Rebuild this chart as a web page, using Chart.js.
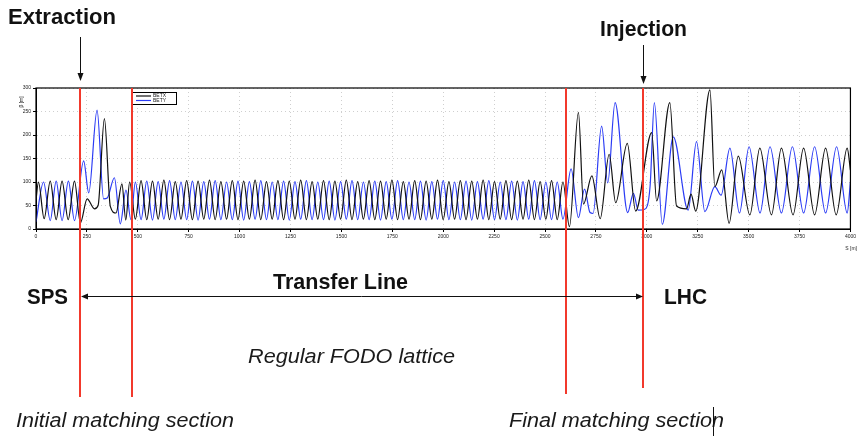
<!DOCTYPE html>
<html>
<head>
<meta charset="utf-8">
<title>SPS to LHC transfer line optics</title>
<script src="https://cdn.jsdelivr.net/npm/chart.js@4.4.1/dist/chart.umd.min.js"></script>
<style>
  html, body { margin: 0; padding: 0; background: #fff; }
  #wrap { width: 858px; height: 436px; }
</style>
</head>
<body>
<div id="wrap"><canvas id="optics" width="858" height="436"></canvas></div>
<script>
// Beta functions along the line, [s (m), beta (m)]
const betx = [
  [0, 62], [12, 100], [40, 22], [70, 102], [99, 20], [128, 102], [158, 20], [189, 102],
  [218, 13], [251, 64], [287, 43], [305, 50], [336, 235], [365, 48], [393, 34], [422, 96], [441, 19],
  // regular FODO
  [460, 100], [488, 21], [516, 103], [544, 20], [572, 102], [600, 21], [628, 104], [656, 20],
  [684, 101], [712, 21], [740, 103], [768, 20], [796, 102], [824, 21], [852, 104], [880, 20],
  [908, 101], [936, 21], [964, 103], [992, 20], [1020, 102], [1048, 21], [1076, 104], [1104, 20],
  [1132, 101], [1160, 21], [1188, 103], [1216, 20], [1244, 102], [1272, 21], [1300, 104], [1328, 20],
  [1356, 101], [1384, 21], [1412, 103], [1440, 20], [1468, 102], [1496, 21], [1524, 104], [1552, 20],
  [1580, 101], [1608, 21], [1636, 103], [1664, 20], [1692, 102], [1720, 21], [1748, 104], [1776, 20],
  [1804, 101], [1832, 21], [1860, 103], [1888, 20], [1916, 102], [1944, 21], [1972, 104], [2000, 20],
  [2028, 101], [2056, 21], [2084, 103], [2112, 20], [2140, 102], [2168, 21], [2196, 104], [2224, 20],
  [2252, 101], [2280, 21], [2308, 103], [2336, 20], [2364, 102], [2392, 21], [2420, 104], [2448, 20],
  [2476, 101], [2504, 21], [2532, 103], [2560, 20], [2588, 100],
  // final matching section and LHC
  [2620, 5], [2664, 248], [2689, 53], [2730, 113], [2771, 22], [2815, 159], [2847, 56], [2904, 182],
  [2945, 38], [3024, 205], [3048, 60], [3113, 269], [3146, 49], [3195, 43], [3217, 74], [3240, 38],
  [3310, 296], [3334, 90], [3368, 126], [3404, 12], [3449, 155], [3506, 30], [3555, 172], [3612, 30],
  [3661, 172], [3718, 30], [3770, 172], [3824, 30], [3878, 172], [3930, 30], [3984, 172], [4000, 125]
];

const bety = [
  [0, 15], [37, 100], [70, 18], [99, 102], [128, 18], [159, 102], [189, 18],
  [234, 145], [259, 77], [300, 253], [332, 64], [350, 66], [385, 109], [414, 11], [442, 83], [466, 20],
  // regular FODO
  [488, 100], [516, 20], [544, 102], [572, 19], [600, 101], [628, 21], [656, 103], [684, 20],
  [712, 100], [740, 20], [768, 102], [796, 19], [824, 101], [852, 21], [880, 103], [908, 20],
  [936, 100], [964, 20], [992, 102], [1020, 19], [1048, 101], [1076, 21], [1104, 103], [1132, 20],
  [1160, 100], [1188, 20], [1216, 102], [1244, 19], [1272, 101], [1300, 21], [1328, 103], [1356, 20],
  [1384, 100], [1412, 20], [1440, 102], [1468, 19], [1496, 101], [1524, 21], [1552, 103], [1580, 20],
  [1608, 100], [1636, 20], [1664, 102], [1692, 19], [1720, 101], [1748, 21], [1776, 103], [1804, 20],
  [1832, 100], [1860, 20], [1888, 102], [1916, 19], [1944, 101], [1972, 21], [2000, 103], [2028, 20],
  [2056, 100], [2084, 20], [2112, 102], [2140, 19], [2168, 101], [2196, 21], [2224, 103], [2252, 20],
  [2280, 100], [2308, 20], [2336, 102], [2364, 19], [2392, 101], [2420, 21], [2448, 103], [2476, 20],
  [2504, 100], [2532, 20], [2560, 100], [2588, 21],
  // final matching section and LHC
  [2628, 128], [2664, 24], [2694, 85], [2721, 35], [2736, 33], [2778, 219], [2808, 98], [2844, 269],
  [2906, 35], [2934, 76], [2958, 40], [2990, 42], [3016, 91], [3037, 269], [3076, 10], [3130, 196],
  [3203, 40], [3244, 186], [3285, 37], [3334, 90], [3365, 72], [3408, 172], [3455, 34], [3502, 175],
  [3556, 34], [3605, 175], [3661, 34], [3715, 175], [3770, 34], [3824, 175], [3878, 34], [3932, 175],
  [3984, 34], [4000, 100]
];

// Section boundaries (s in m): extraction, end of initial matching, start of final matching, injection
const sectionS = [218, 473, 2605, 2983];

const xTicks = [0, 250, 500, 750, 1000, 1250, 1500, 1750, 2000, 2250, 2500, 2750, 3000, 3250, 3500, 3750, 4000];
const yTicks = [0, 50, 100, 150, 200, 250, 300];

// draw text squeezed/stretched to a given width
function fitText(ctx, txt, x, y, w, font) {
  ctx.font = font;
  const m = ctx.measureText(txt).width;
  ctx.save();
  ctx.translate(x, y);
  ctx.scale(w / m, 1);
  ctx.fillText(txt, 0, 0);
  ctx.restore();
}

function arrowHead(ctx, x, y, dir) {
  // dir: 'down', 'left', 'right'
  ctx.beginPath();
  if (dir === 'down') { ctx.moveTo(x, y); ctx.lineTo(x - 3, y - 8); ctx.lineTo(x + 3, y - 8); }
  if (dir === 'left') { ctx.moveTo(x, y); ctx.lineTo(x + 7, y - 3); ctx.lineTo(x + 7, y + 3); }
  if (dir === 'right') { ctx.moveTo(x, y); ctx.lineTo(x - 7, y - 3); ctx.lineTo(x - 7, y + 3); }
  ctx.closePath();
  ctx.fill();
}

const annotations = {
  id: 'annotations',
  afterDatasetsDraw(chart) {
    const { ctx, chartArea: a, scales: { x } } = chart;
    ctx.save();

    // frame
    ctx.strokeStyle = '#000';
    ctx.lineWidth = 1.2;
    ctx.strokeRect(a.left, a.top, a.right - a.left, a.bottom - a.top);

    // axis titles
    ctx.fillStyle = '#222';
    ctx.font = '5px "Liberation Sans"';
    ctx.textBaseline = 'middle';
    ctx.textAlign = 'right';
    ctx.fillText('S [m]', 857, 249);
    ctx.save();
    ctx.translate(22, a.top + 14);
    ctx.rotate(-Math.PI / 2);
    ctx.textAlign = 'center';
    ctx.fillText('\u03b2 [m]', 0, 0);
    ctx.restore();

    // legend
    ctx.fillStyle = '#fff';
    ctx.fillRect(131.5, 92.5, 45, 12);
    ctx.strokeStyle = '#000';
    ctx.lineWidth = 1;
    ctx.strokeRect(131.5, 92.5, 45, 12);
    chart.data.datasets.forEach((d, i) => {
      const ly = 96 + i * 4.5;
      ctx.strokeStyle = d.borderColor;
      ctx.lineWidth = 1.2;
      ctx.beginPath(); ctx.moveTo(136, ly); ctx.lineTo(151, ly); ctx.stroke();
      ctx.fillStyle = '#222';
      ctx.textAlign = 'left';
      ctx.font = '5px "Liberation Sans"';
      ctx.fillText(d.label, 153, ly);
    });

    // red section lines
    const redEnds = [397, 397, 394, 388];
    ctx.strokeStyle = '#f2392c';
    ctx.lineWidth = 2;
    sectionS.forEach((s, i) => {
      const px = Math.round(x.getPixelForValue(s));
      ctx.beginPath(); ctx.moveTo(px, a.top); ctx.lineTo(px, redEnds[i]); ctx.stroke();
    });

    const exX = Math.round(x.getPixelForValue(sectionS[0]));
    const inX = Math.round(x.getPixelForValue(sectionS[3]));

    // extraction / injection arrows
    ctx.strokeStyle = '#111';
    ctx.fillStyle = '#111';
    ctx.lineWidth = 1;
    ctx.beginPath(); ctx.moveTo(exX + 0.5, 37); ctx.lineTo(exX + 0.5, 76); ctx.stroke();
    arrowHead(ctx, exX + 0.5, 81, 'down');
    ctx.beginPath(); ctx.moveTo(inX + 0.5, 45); ctx.lineTo(inX + 0.5, 79); ctx.stroke();
    arrowHead(ctx, inX + 0.5, 84, 'down');

    // transfer line double arrow
    ctx.beginPath(); ctx.moveTo(exX + 4, 296.5); ctx.lineTo(inX - 4, 296.5); ctx.stroke();
    arrowHead(ctx, exX + 1, 296.5, 'left');
    arrowHead(ctx, inX, 296.5, 'right');

    // labels
    ctx.fillStyle = '#111';
    ctx.textAlign = 'left';
    ctx.textBaseline = 'middle';
    fitText(ctx, 'Extraction', 8, 18, 108, 'bold 22px "Liberation Sans"');
    fitText(ctx, 'Injection', 600, 30, 87, 'bold 22px "Liberation Sans"');
    fitText(ctx, 'SPS', 27, 298, 41, 'bold 22px "Liberation Sans"');
    fitText(ctx, 'LHC', 664, 298, 43, 'bold 22px "Liberation Sans"');
    fitText(ctx, 'Transfer Line', 273, 283, 135, 'bold 22px "Liberation Sans"');
    ctx.fillStyle = '#1a1a1a';
    fitText(ctx, 'Regular FODO lattice', 248, 357, 207, 'italic 20px "Liberation Sans"');
    fitText(ctx, 'Initial matching section', 16, 421, 218, 'italic 20px "Liberation Sans"');
    fitText(ctx, 'Final matching section', 509, 421, 215, 'italic 20px "Liberation Sans"');

    // text cursor left in the slide
    ctx.strokeStyle = '#111';
    ctx.lineWidth = 1;
    ctx.beginPath(); ctx.moveTo(713.5, 407); ctx.lineTo(713.5, 436); ctx.stroke();

    ctx.restore();
  }
};

new Chart(document.getElementById('optics'), {
  type: 'line',
  data: {
    datasets: [{
      label: 'BETX',
      data: betx.map(p => ({ x: p[0], y: p[1] })),
      borderColor: '#111111',
      borderWidth: 1.2,
      pointRadius: 0,
      cubicInterpolationMode: 'monotone',
      fill: false
    }, {
      label: 'BETY',
      data: bety.map(p => ({ x: p[0], y: p[1] })),
      borderColor: '#2b3cf5',
      borderWidth: 1.2,
      pointRadius: 0,
      cubicInterpolationMode: 'monotone',
      fill: false
    }]
  },
  options: {
    responsive: false,
    devicePixelRatio: 1,
    animation: false,
    layout: { padding: { top: 88, right: 5, left: 0, bottom: 0 } },
    plugins: {
      legend: { display: false },
      tooltip: { enabled: false }
    },
    scales: {
      x: {
        type: 'linear',
        min: 0,
        max: 4000,
        afterBuildTicks: s => { s.ticks = xTicks.map(v => ({ value: v })); },
        afterFit: s => { s.height = 207; },
        ticks: { font: { size: 5, family: 'Liberation Sans' }, color: '#222', padding: 2, maxRotation: 0, autoSkip: false, callback: v => String(v) },
        grid: { color: '#cfcfcf', tickColor: '#000', tickLength: 3, lineWidth: 1 },
        border: { display: true, color: '#000', dash: [1, 3] }
      },
      y: {
        min: 0,
        max: 300,
        afterBuildTicks: s => { s.ticks = yTicks.map(v => ({ value: v })); },
        afterFit: s => { s.width = 36; },
        ticks: { font: { size: 5, family: 'Liberation Sans' }, color: '#222', padding: 2, callback: v => String(v) },
        grid: { color: '#cfcfcf', tickColor: '#000', tickLength: 3, lineWidth: 1 },
        border: { display: true, color: '#000', dash: [1, 3] }
      }
    }
  },
  plugins: [annotations]
});
</script>
</body>
</html>
